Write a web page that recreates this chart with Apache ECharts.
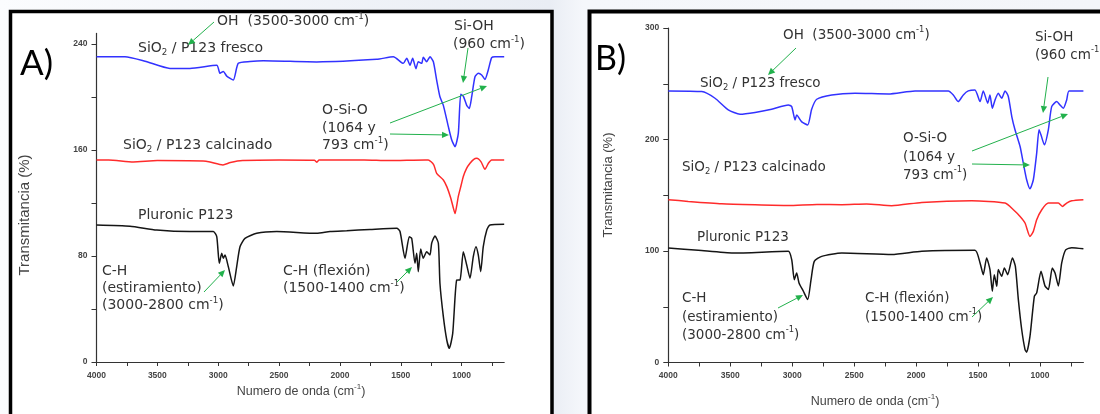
<!DOCTYPE html>
<html><head><meta charset="utf-8">
<script src="https://cdn.jsdelivr.net/npm/echarts@6/dist/echarts.min.js"></script>
<style>html,body{margin:0;padding:0;background:#fff}#c{width:1100px;height:414px}</style>
</head><body><div id="c"></div>
<script>
// ---------- tick values ----------
const xLabelVals = [4000, 3500, 3000, 2500, 2000, 1500, 1000];
const xTickVals = [4000, 3750, 3500, 3250, 3000, 2750, 2500, 2250, 2000, 1750, 1500, 1250, 1000, 750];
const yLabelValsA = [0, 80, 160, 240];
const yTickValsA = [0, 40, 80, 120, 160, 200, 240];
const yLabelValsB = [0, 100, 200, 300];
const yTickValsB = [0, 50, 100, 150, 200, 250, 300];

// ---------- Panel A data ----------
const wnFrescoA = [4000,3766,3601,3396,3232,3012,2985,2958,2930,2876,2835,2739,2629,2191,1698,1561,1479,1451,1424,1402,1375,1356,1328,1315,1287,1260,1232,1205,1178,1150,1109,1081,1054,1027,1007,986,958,937,917,890,863,835,808,781,753,726,650];
const tFrescoA = [230.4,230.4,227,221.6,221.6,224,217.9,219.3,215.8,212.8,225.4,226.8,227.4,226.5,228.4,230.4,225.4,229.2,224,229.2,221.4,226.6,225.4,230,226.6,230.4,226.6,212.8,200.2,193.7,177.6,167.5,162.5,172.6,202,200.7,193.7,191.4,200.2,215.3,217.9,216.6,213.3,220.4,229.7,230.4,230.4];

const wnCalcA = [4000,3900,3698,3500,3100,2961,2900,2800,2500,2210,2191,2170,1800,1600,1300,1274,1230,1205,1150,1120,1090,1070,1054,1040,1027,1005,986,960,931,900,875,840,808,780,753,650];
const tCalcA = [152.5,152.5,151,152,151.5,148.7,150.5,152,152.5,152.3,150.8,152.5,152.5,152,152.5,152.5,149,142.4,137.4,132,124,117,112,118,125,133,140,146,150,153,153.7,151,145.4,150,152.5,152.5];

const wnPluronicA = [4000,3725,3505,3232,3040,3012,2991,2971,2958,2944,2917,2876,2848,2821,2780,2684,2519,2191,2081,1944,1753,1533,1506,1465,1430,1410,1383,1369,1356,1336,1315,1287,1260,1246,1219,1191,1178,1150,1122,1101,1073,1040,1013,986,958,931,904,882,863,843,822,793,767,650];
const tPluronicA = [103.4,102.5,99.6,98.4,98.5,94.6,74.5,82,78.3,80.8,72,57.4,72,87,93.3,97.1,98.4,97.1,98.5,99.1,100,100.9,98.5,78.3,94.6,93.3,74.5,82,68.2,85.2,78.3,83.2,80.8,89.6,95.1,89.6,59.4,34.2,16.6,10.3,21.6,61.9,62,83.2,73.2,63.2,79.5,87,80.8,68.2,87,99.6,103.4,104];

// ---------- Panel B data ----------
const wnFrescoB = [4000,3730,3623,3516,3421,3300,3166,3031,3004,2977,2964,2923,2875,2843,2802,2681,2493,2224,2009,1740,1700,1660,1619,1579,1525,1484,1458,1422,1404,1385,1363,1337,1309,1282,1256,1228,1202,1161,1135,1108,1081,1054,1027,1008,992,965,933,906,865,839,812,785,766,650];
const tFrescoB = [243.6,243,237,226.6,222.7,224.3,227.2,231,229.5,217.6,222,215.8,213.1,227.2,236.1,240,241.5,240.9,243.6,243.6,240,234,240,243.6,244.5,234,243.6,232.5,240,228,235.5,241.5,237,243.6,238.6,220.6,208.7,193.7,178.8,163.9,155.8,163.9,187.8,208.7,204,195.2,208.7,229.5,234,231,228,235.5,243.6,243.6];

const wnCalcB = [4000,3839,3569,3300,3031,2800,2600,2400,2197,1955,1551,1282,1215,1161,1121,1081,1054,1027,986,933,852,820,785,744,650];
const tCalcB = [146,144.5,142.4,141.5,140.9,141.8,141.5,142.2,140.6,143.6,145,143,137,131,125.1,113.1,117.6,128,137,143,143,140,143,145,146];

const wnPluronicB = [4000,3758,3475,3031,3004,2983,2964,2945,2910,2875,2848,2822,2762,2600,2197,1955,1525,1484,1458,1431,1404,1385,1369,1349,1337,1309,1288,1261,1223,1199,1175,1148,1121,1108,1081,1046,1027,992,960,933,901,879,852,825,793,744,650];
const tPluronicB = [102.6,100.6,98.2,99.7,92.2,74.3,80.3,71.4,63.9,56.4,74.3,90.7,95.2,98.2,96.8,99.7,100.6,89.3,78.8,93.8,83.3,63.9,78.8,68.3,83.3,77.3,84.8,78.8,93.8,86.2,56.4,29.6,11.6,9.3,23.6,59.4,62.4,81.8,68.7,65.4,84.8,80.3,68.7,89.3,101,103,102];

// ---------- helpers ----------
const zip = (xs, ys) => xs.map((x, i) => [x, ys[i]]);
const GREEN = '#22b14c';
const TXT = '#333';
const FF = '"DejaVu Sans", sans-serif';

function rt(str, size) {
  return {
    text: str,
    rich: {
      n: {fontSize: size, fontFamily: FF, fill: TXT, lineHeight: 18},
      s: {fontSize: size * 0.62, fontFamily: FF, fill: TXT, lineHeight: 9, verticalAlign: 'bottom'},
      p: {fontSize: size * 0.62, fontFamily: FF, fill: TXT, lineHeight: 9, verticalAlign: 'top'}
    }
  };
}
function label(x, y, str, size) {
  const s = rt(str, size);
  return {type: 'text', x: x, y: y, z: 100, style: Object.assign(s, {textVerticalAlign: 'middle', textAlign: 'left'})};
}
function arrow(x1, y1, x2, y2) {
  const a = Math.atan2(y2 - y1, x2 - x1), L = 7, W = 3.2;
  const bx = x2 - L * Math.cos(a), by = y2 - L * Math.sin(a);
  const px = -Math.sin(a) * W, py = Math.cos(a) * W;
  return [
    {type: 'line', z: 100, shape: {x1: x1, y1: y1, x2: bx, y2: by}, style: {stroke: GREEN, lineWidth: 1}},
    {type: 'polygon', z: 100, shape: {points: [[x2, y2], [bx + px, by + py], [bx - px, by - py]]}, style: {fill: GREEN}}
  ];
}

const axisCommon = (grid) => ({
  gridIndex: grid,
  axisLine: {show: true, onZero: false, lineStyle: {color: '#333', width: 1.2}},
  splitLine: {show: false}
});
const plain = (v) => String(v);
function xAxis(grid) {
  return Object.assign(axisCommon(grid), {
    type: 'value', inverse: true, min: 650, max: 4000,
    axisTick: {show: true, length: 4, customValues: xTickVals, lineStyle: {color: '#333'}},
    axisLabel: {customValues: xLabelVals, formatter: plain, fontSize: 8.5, fontWeight: 'bold', color: '#444', margin: 9, fontFamily: 'Liberation Sans'}
  });
}
function yAxis(grid, max, ticks, labels) {
  return Object.assign(axisCommon(grid), {
    type: 'value', min: 0, max: max,
    axisTick: {show: true, length: 5, customValues: ticks, lineStyle: {color: '#333'}},
    axisLabel: {customValues: labels, formatter: plain, fontSize: 8.5, fontWeight: 'bold', color: '#444', margin: 9, fontFamily: 'Liberation Sans'}
  });
}
function line(xi, data, color) {
  return {type: 'line', xAxisIndex: xi, yAxisIndex: xi, data: data, showSymbol: false, symbol: 'none',
    smooth: 0.2, lineStyle: {color: color, width: 1.5}, silent: true, animation: false};
}

const BLUE = '#3232ff', RED = '#ff2b2b', BLACK = '#151515';

const graphics = [
  // background
  {type: 'rect', z: -10, shape: {x: 0, y: 0, width: 1100, height: 414},
    style: {fill: {type: 'linear', x: 0, y: 0, x2: 1, y2: 0, colorStops: [
      {offset: 0, color: '#fbfcfe'}, {offset: 0.5, color: '#e9edf4'}, {offset: 0.53, color: '#f5f7fb'}, {offset: 1, color: '#f3f5f9'}]}}},
  {type: 'rect', z: -9, shape: {x: 10.5, y: 11.5, width: 541.5, height: 430}, style: {fill: '#fff', stroke: '#000', lineWidth: 3.5}},
  {type: 'rect', z: -9, shape: {x: 589.5, y: 11.5, width: 600, height: 430}, style: {fill: '#fff', stroke: '#000', lineWidth: 4}},
  // panel letters
  {type: 'text', x: 20, y: 64, z: 100, style: {text: 'A)', fontSize: 35, fontFamily: 'Lato', fill: '#000', textVerticalAlign: 'middle'}},
  {type: 'text', x: 595, y: 59, z: 100, style: {text: 'B)', fontSize: 34, fontFamily: 'Lato', fill: '#000', textVerticalAlign: 'middle'}},
  // axis names
  {type: 'text', x: 25, y: 215, rotation: Math.PI / 2, z: 100, style: {text: 'Transmitancia (%)', fontSize: 15, fontFamily: 'Liberation Sans', fill: '#444', textAlign: 'center', textVerticalAlign: 'middle'}},
  {type: 'text', x: 608, y: 185, rotation: Math.PI / 2, z: 100, style: {text: 'Transmitancia (%)', fontSize: 13, fontFamily: 'Liberation Sans', fill: '#444', textAlign: 'center', textVerticalAlign: 'middle'}},
  {type: 'text', x: 301, y: 392, z: 100, style: Object.assign({
    text: '{n|Numero de onda (cm}{p|-1}{n|)}',
    rich: {n: {fontSize: 12.5, fontFamily: 'Liberation Sans', fill: '#444', lineHeight: 18},
      p: {fontSize: 8, fontFamily: 'Liberation Sans', fill: '#444', lineHeight: 9, verticalAlign: 'top'}}},
    {textAlign: 'center', textVerticalAlign: 'middle'})},
  {type: 'text', x: 875, y: 402, z: 100, style: Object.assign({
    text: '{n|Numero de onda (cm}{p|-1}{n|)}',
    rich: {n: {fontSize: 12.5, fontFamily: 'Liberation Sans', fill: '#444', lineHeight: 18},
      p: {fontSize: 8, fontFamily: 'Liberation Sans', fill: '#444', lineHeight: 9, verticalAlign: 'top'}}},
    {textAlign: 'center', textVerticalAlign: 'middle'})},

  // Panel A annotations
  label(217, 21, '{n|OH  (3500-3000 cm}{p|-1}{n|)}', 14),
  label(138, 48, '{n|SiO}{s|2}{n| / P123 fresco}', 14),
  label(454, 26, '{n|Si-OH}', 14),
  label(453, 44, '{n|(960 cm}{p|-1}{n|)}', 14),
  label(322, 110, '{n|O-Si-O}', 14),
  label(322, 128, '{n|(1064 y}', 14),
  label(322, 145, '{n|793 cm}{p|-1}{n|)}', 14),
  label(123, 145, '{n|SiO}{s|2}{n| / P123 calcinado}', 14),
  label(138, 215, '{n|Pluronic P123}', 14),
  label(102, 271, '{n|C-H}', 14),
  label(102, 288, '{n|(estiramiento)}', 14),
  label(102, 305, '{n|(3000-2800 cm}{p|-1}{n|)}', 14),
  label(283, 271, '{n|C-H (flexión)}', 14),
  label(283, 288, '{n|(1500-1400 cm}{p|-1}{n|)}', 14),
  ...arrow(214, 22, 188, 45),
  ...arrow(468, 48, 463, 83),
  ...arrow(390, 123, 487, 86),
  ...arrow(390, 134, 449, 135),
  ...arrow(204, 292, 225, 270),
  ...arrow(397, 282, 412, 267),

  // Panel B annotations
  label(783, 35, '{n|OH  (3500-3000 cm}{p|-1}{n|)}', 13.5),
  label(700, 83, '{n|SiO}{s|2}{n| / P123 fresco}', 13.5),
  label(1035, 37, '{n|Si-OH}', 13.5),
  label(1035, 55, '{n|(960 cm}{p|-1}{n|)}', 13.5),
  label(903, 138, '{n|O-Si-O}', 13.5),
  label(903, 157, '{n|(1064 y}', 13.5),
  label(903, 175, '{n|793 cm}{p|-1}{n|)}', 13.5),
  label(682, 167, '{n|SiO}{s|2}{n| / P123 calcinado}', 13.5),
  label(697, 237, '{n|Pluronic P123}', 13.5),
  label(682, 298, '{n|C-H}', 13.5),
  label(682, 317, '{n|(estiramiento)}', 13.5),
  label(682, 335, '{n|(3000-2800 cm}{p|-1}{n|)}', 13.5),
  label(865, 298, '{n|C-H (flexión)}', 13.5),
  label(865, 317, '{n|(1500-1400 cm}{p|-1}{n|)}', 13.5),
  ...arrow(796, 48, 768, 75),
  ...arrow(1048, 77, 1043, 113),
  ...arrow(972, 151, 1068, 114),
  ...arrow(972, 164, 1030, 165),
  ...arrow(778, 308, 803, 295),
  ...arrow(972, 317, 993, 297)
];

const chart = echarts.init(document.getElementById('c'), null, {renderer: 'canvas'});
chart.setOption({
  animation: false,
  backgroundColor: 'transparent',
  grid: [
    {left: 96.5, right: 595.8, top: 33.4, bottom: 52},
    {left: 668.3, right: 16.6, top: 28, bottom: 51.5}
  ],
  xAxis: [xAxis(0), xAxis(1)],
  yAxis: [yAxis(0, 248, yTickValsA, yLabelValsA), yAxis(1, 300, yTickValsB, yLabelValsB)],
  series: [
    line(0, zip(wnFrescoA, tFrescoA), BLUE),
    line(0, zip(wnCalcA, tCalcA), RED),
    line(0, zip(wnPluronicA, tPluronicA), BLACK),
    line(1, zip(wnFrescoB, tFrescoB), BLUE),
    line(1, zip(wnCalcB, tCalcB), RED),
    line(1, zip(wnPluronicB, tPluronicB), BLACK)
  ],
  graphic: graphics
});
</script></body></html>
